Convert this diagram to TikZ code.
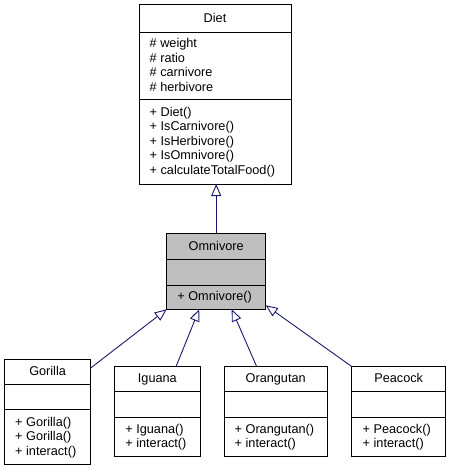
\documentclass[tikz,border=0pt]{standalone}
\usepackage{fontspec}
\setmainfont{Liberation Sans}
\usetikzlibrary{arrows.meta}
\definecolor{edgeblue}{HTML}{191970}
\definecolor{omnigray}{HTML}{BFBFBF}
\begin{document}
\begin{tikzpicture}[x=1pt,y=-1pt,
  classbox/.style={draw=black, line width=0.9pt, fill=white, rectangle, inner sep=0pt, outer sep=0pt},
  divline/.style={draw=black, line width=0.9pt},
  txt/.style={anchor=base west, inner sep=0pt, font=\fontsize{12.7}{14.5}\selectfont},
  ttl/.style={anchor=base, inner sep=0pt, font=\fontsize{12.7}{14.5}\selectfont},
  inh/.style={draw=edgeblue, line width=0.9pt, -{Triangle[open, length=12pt, width=10pt, fill=white]}}
]
\useasboundingbox (0,0) rectangle (451,471);

% ---- class boxes ----
\node[classbox, minimum width=152pt, minimum height=179.3pt] (diet) at (215,94.35) {};
\node[classbox, fill=omnigray, minimum width=99pt, minimum height=76pt] (omni) at (216.2,271.3) {};
\node[classbox, minimum width=86.2pt, minimum height=105pt] (gorilla) at (47.6,412) {};
\node[classbox, minimum width=85.3pt, minimum height=90pt] (iguana) at (157.35,411.5) {};
\node[classbox, minimum width=103.3pt, minimum height=90pt] (orangutan) at (275.65,411.5) {};
\node[classbox, minimum width=94pt, minimum height=90pt] (peacock) at (398.7,411.5) {};

% ---- dividers ----
\draw[divline] (diet.west |- 0,32) -- (diet.east |- 0,32);
\draw[divline] (diet.west |- 0,99) -- (diet.east |- 0,99);
\draw[divline] (omni.west |- 0,259.3) -- (omni.east |- 0,259.3);
\draw[divline] (omni.west |- 0,285) -- (omni.east |- 0,285);
\draw[divline] (gorilla.west |- 0,384.5) -- (gorilla.east |- 0,384.5);
\draw[divline] (gorilla.west |- 0,409) -- (gorilla.east |- 0,409);
\foreach \b in {iguana,orangutan,peacock}{
  \draw[divline] (\b.west |- 0,391.5) -- (\b.east |- 0,391.5);
  \draw[divline] (\b.west |- 0,417) -- (\b.east |- 0,417);
}

% ---- texts ----
\node[ttl] (dietT) at (215,22.1) {Diet};
\node[txt] (dietA1) at (149.5,47.5) {\# weight};
\node[txt] (dietA2) at (149.5,62) {\# ratio};
\node[txt] (dietA3) at (149.5,76.5) {\# carnivore};
\node[txt] (dietA4) at (149.5,91) {\# herbivore};
\node[txt] (dietM1) at (149.5,116.25) {+ Diet()};
\node[txt] (dietM2) at (149.5,130.75) {+ IsCarnivore()};
\node[txt] (dietM3) at (149.5,145.25) {+ IsHerbivore()};
\node[txt] (dietM4) at (149.5,159.75) {+ IsOmnivore()};
\node[txt] (dietM5) at (149.5,174.25) {+ calculateTotalFood()};

\node[ttl] (omniT) at (216.2,250.05) {Omnivore};
\node[txt] (omniM1) at (177.2,300.9) {+ Omnivore()};

\node[ttl] (gorT) at (47.6,375.75) {Gorilla};
\node[txt] (gorM1) at (15,426) {+ Gorilla()};
\node[txt] (gorM2) at (15,440.5) {+ Gorilla()};
\node[txt] (gorM3) at (15,455) {+ interact()};

\node[ttl] (igT) at (157.35,382.75) {Iguana};
\node[txt] (igM1) at (125.2,433.25) {+ Iguana()};
\node[txt] (igM2) at (125.2,447.75) {+ interact()};

\node[ttl] (orT) at (275.65,382.75) {Orangutan};
\node[txt] (orM1) at (234.5,433.25) {+ Orangutan()};
\node[txt] (orM2) at (234.5,447.75) {+ interact()};

\node[ttl] (peT) at (398.7,382.75) {Peacock};
\node[txt] (peM1) at (362.5,433.25) {+ Peacock()};
\node[txt] (peM2) at (362.5,447.75) {+ interact()};

% ---- inheritance connectors ----
\draw[inh] (omni.north) -- (omni.north |- diet.south);
\draw[inh] ([yshift=-8.5pt]gorilla.north east) -- (omni.south west);
\draw[inh] ([xshift=18.7pt]iguana.north) -- ([xshift=-17pt]omni.south);
\draw[inh] ([xshift=-19pt]orangutan.north) -- ([xshift=15.5pt]omni.south);
\draw[inh] (peacock.north west) -- ([yshift=4pt]omni.south east);
\end{tikzpicture}
\end{document}
